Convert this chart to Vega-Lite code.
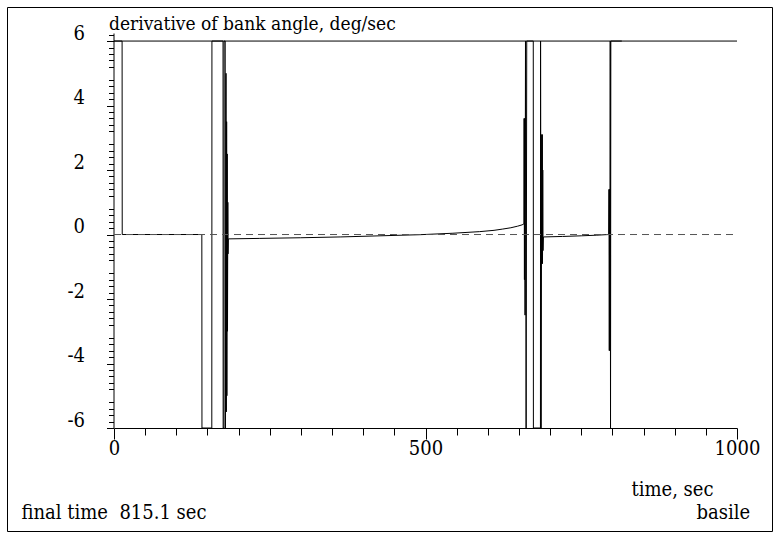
{
  "$schema": "https://vega.github.io/schema/vega-lite/v6.json",
  "width": 765,
  "height": 524,
  "autosize": {"type": "none"},
  "padding": {"left": 7, "top": 7, "right": 7, "bottom": 2},
  "background": "white",
  "config": {
    "view": {"stroke": "black", "strokeWidth": 1},
    "axis": {
      "domainColor": "black", "tickColor": "black", "labelColor": "black", "titleColor": "black",
      "labelFont": "DejaVu Serif Condensed", "titleFont": "DejaVu Serif Condensed",
      "labelFontSize": 20, "titleFontSize": 20, "titleFontWeight": "normal",
      "grid": false, "domainWidth": 1, "tickWidth": 1, "labelOverlap": false, "labelFlush": false
    }
  },
  "datasets": {
    "signal": [
      {"t": 0, "v": 6}, {"t": 13.0, "v": 6}, {"t": 13.2, "v": 0},
      {"t": 141.0, "v": 0}, {"t": 141.2, "v": -6}, {"t": 157.0, "v": -6}, {"t": 157.2, "v": 6},
      {"t": 175.0, "v": 6}, {"t": 175.2, "v": -6}, {"t": 176.5, "v": -6}, {"t": 176.7, "v": 6},
      {"t": 178.5, "v": 6}, {"t": 178.8, "v": -6}, {"t": 179.8, "v": 5}, {"t": 180.3, "v": -5.5},
      {"t": 180.8, "v": 3.5}, {"t": 181.2, "v": -5}, {"t": 181.7, "v": 2.5}, {"t": 182.2, "v": -3},
      {"t": 182.7, "v": 1}, {"t": 183.0, "v": -0.6}, {"t": 183.5, "v": -0.135},
      {"t": 234, "v": -0.12}, {"t": 299, "v": -0.1}, {"t": 363, "v": -0.075}, {"t": 427, "v": -0.04},
      {"t": 491, "v": -0.005}, {"t": 544, "v": 0.04}, {"t": 587, "v": 0.09}, {"t": 610, "v": 0.13},
      {"t": 624, "v": 0.17}, {"t": 637, "v": 0.21}, {"t": 648, "v": 0.26}, {"t": 655, "v": 0.3},
      {"t": 658.0, "v": 0.33}, {"t": 658.3, "v": 3.6}, {"t": 658.8, "v": -1.4}, {"t": 659.3, "v": 3.6},
      {"t": 659.8, "v": -2.5}, {"t": 660.5, "v": 6}, {"t": 661.5, "v": -6}, {"t": 662.5, "v": 6},
      {"t": 673.0, "v": 6}, {"t": 673.2, "v": -6}, {"t": 684.5, "v": -6}, {"t": 684.7, "v": 6},
      {"t": 685.5, "v": -6}, {"t": 686.6, "v": 3.1}, {"t": 687.0, "v": -0.9}, {"t": 687.4, "v": 3.1},
      {"t": 687.8, "v": -0.9}, {"t": 688.2, "v": 2}, {"t": 688.6, "v": -0.5}, {"t": 689.2, "v": -0.075},
      {"t": 720, "v": -0.06}, {"t": 750, "v": -0.04}, {"t": 775, "v": -0.02}, {"t": 794, "v": 0.0},
      {"t": 794.5, "v": 1.4}, {"t": 795.0, "v": -3.6}, {"t": 795.5, "v": 1.4}, {"t": 796.0, "v": -3.6},
      {"t": 796.5, "v": 6}, {"t": 797.0, "v": -6}, {"t": 797.5, "v": 6}, {"t": 815.1, "v": 6}
    ]
  },
  "layer": [
    {
      "data": {"name": "signal"},
      "mark": {"type": "line", "color": "black", "strokeWidth": 1},
      "encoding": {
        "x": {
          "field": "t", "type": "quantitative",
          "scale": {"domain": [0, 1000], "range": [107, 730], "nice": false, "zero": false},
          "axis": {
            "orient": "bottom", "offset": -103, "values": [0, 500, 1000], "tickSize": 11,
            "labelPadding": -1, "labelExpr": "datum.value + ''",
            "title": "time, sec", "titleX": 624, "titleY": 67,
            "titleAlign": "left", "titleBaseline": "alphabetic"
          }
        },
        "y": {
          "field": "v", "type": "quantitative",
          "scale": {"domain": [-6, 6.25], "range": [421, 26], "nice": false, "zero": false},
          "axis": {
            "orient": "left", "offset": -106.5, "values": [-6, -4, -2, 0, 2, 4, 6], "tickSize": 7,
            "labelPadding": 22, "labelOffset": -2, "labelExpr": "datum.value + ''", "labelBaseline": "alphabetic",
            "title": "derivative of bank angle, deg/sec", "titleFontSize": 19, "titleAngle": 0, "titleX": -5, "titleY": 22,
            "titleAlign": "left", "titleBaseline": "alphabetic"
          }
        }
      }
    },
    {
      "data": {"values": [{"ref": 0}]},
      "mark": {"type": "rule", "color": "#555555", "strokeDash": [7, 5], "strokeWidth": 1},
      "encoding": {
        "x": {
          "datum": 0, "type": "quantitative",
          "axis": {
            "orient": "bottom", "offset": -103,
            "values": [50, 100, 150, 200, 250, 300, 350, 400, 450, 550, 600, 650, 700, 750, 800, 850, 900, 950],
            "tickSize": 7, "labels": false, "domain": false, "title": null
          }
        },
        "x2": {"datum": 1000},
        "y": {
          "field": "ref", "type": "quantitative",
          "axis": {
            "orient": "left", "offset": -106.5,
            "values": [-5.8, -5.6, -5.4, -5.2, -4.8, -4.6, -4.4, -4.2, -3.8, -3.6, -3.4, -3.2, -2.8, -2.6, -2.4, -2.2, -1.8, -1.6, -1.4, -1.2, -0.8, -0.6, -0.4, -0.2, 0.2, 0.4, 0.6, 0.8, 1.2, 1.4, 1.6, 1.8, 2.2, 2.4, 2.6, 2.8, 3.2, 3.4, 3.6, 3.8, 4.2, 4.4, 4.6, 4.8, 5.2, 5.4, 5.6, 5.8, 6.2],
            "tickSize": 5, "labels": false, "domain": false, "title": null
          }
        }
      }
    },
    {
      "data": {"values": [{"top": 6}]},
      "mark": {"type": "rule", "color": "black", "strokeWidth": 1},
      "encoding": {
        "x": {
          "datum": 0, "type": "quantitative",
          "axis": {
            "orient": "bottom", "offset": -103, "domain": false, "ticks": false, "labels": false,
            "title": "basile", "titleX": 689, "titleY": 90, "titleAlign": "left", "titleBaseline": "alphabetic"
          }
        },
        "x2": {"datum": 1000},
        "y": {
          "field": "top", "type": "quantitative",
          "axis": {
            "orient": "left", "offset": 0, "domain": false, "ticks": false, "labels": false,
            "title": "final time\u00a0\u00a0815.1 sec", "titleAngle": 0, "titleX": 14, "titleY": 511,
            "titleAlign": "left", "titleBaseline": "alphabetic"
          }
        }
      }
    }
  ],
  "resolve": {"axis": {"x": "independent", "y": "independent"}}
}
